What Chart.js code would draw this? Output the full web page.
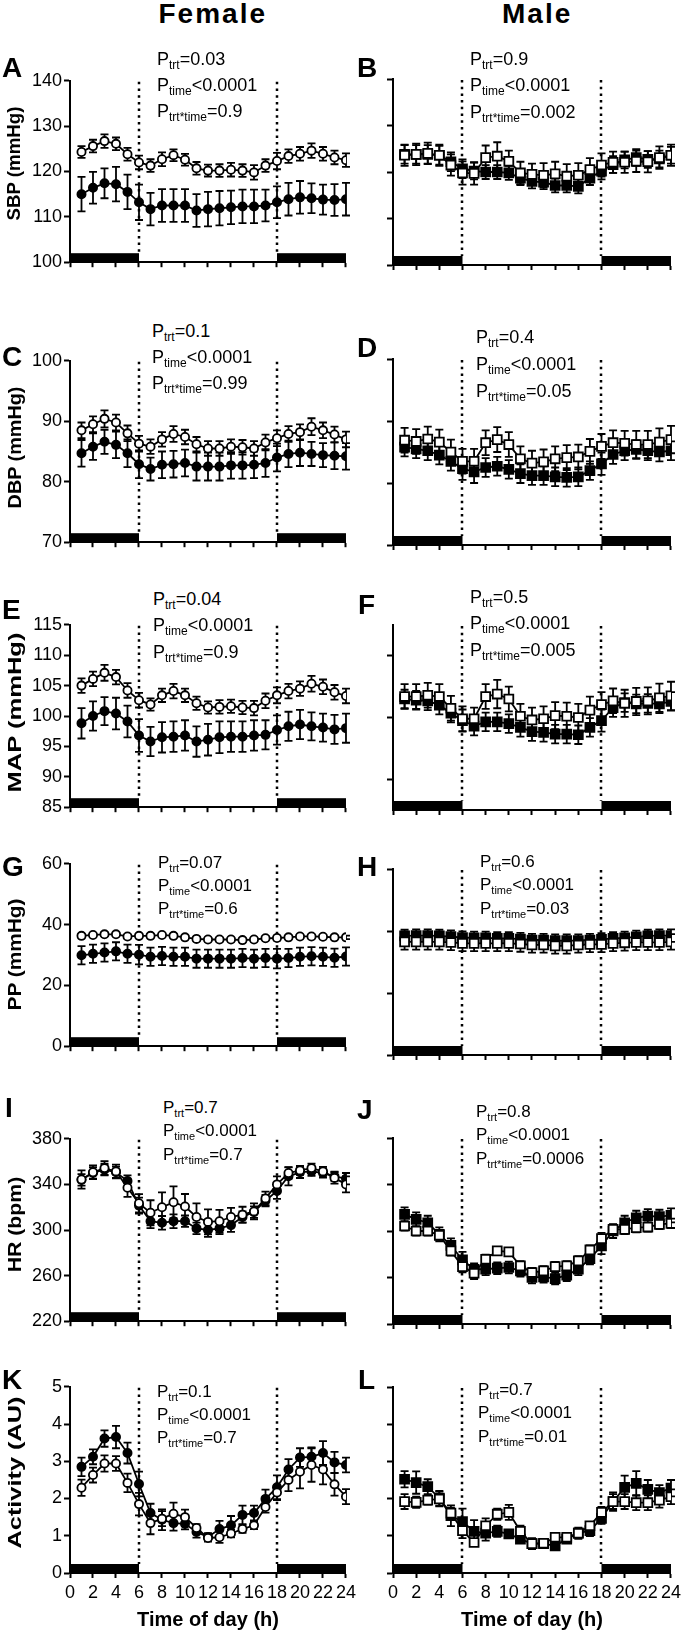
<!DOCTYPE html>
<html>
<head>
<meta charset="utf-8">
<script src="https://cdn.jsdelivr.net/npm/chart.js@4/dist/chart.umd.min.js"></script>
<style>
  html, body { margin: 0; padding: 0; background: #fff; }
  body { width: 685px; height: 1634px; position: relative; overflow: hidden;
         font-family: "Liberation Sans", Arial, sans-serif; color: #000; }
  canvas { position: absolute; }
  .txt { position: absolute; white-space: nowrap; line-height: 1; }
  .head { font-weight: bold; font-size: 28px; letter-spacing: 2px; }
  .letter { font-weight: bold; font-size: 28px; }
  .ytitle { font-weight: bold; font-size: 19px; transform-origin: 50% 50%; }
  .ptxt sub { vertical-align: -4px; }
</style>
</head>
<body>
<script>
"use strict";

// ---- data ----
const hours = [1, 2, 3, 4, 5, 6, 7, 8, 9, 10, 11, 12, 13, 14, 15, 16, 17, 18, 19, 20, 21, 22, 23, 24];
const xTicks = [0, 2, 4, 6, 8, 10, 12, 14, 16, 18, 20, 22, 24];
const nightStart = [0, 18];
const nightEnd = [6, 24];
const lightsChange = [6, 18];

// SBP
const sbpTicks = [100, 110, 120, 130, 140];
const sbpFemaleOpen = [124.3, 125.6, 126.7, 126.1, 123.8, 122.0, 121.3, 122.7, 123.6, 122.6, 120.7, 120.2, 120.2, 120.4, 120.2, 119.8, 121.3, 122.3, 123.4, 123.9, 124.6, 123.9, 123.1, 122.5];
const sbpFemaleOpenErr = [1.3, 1.4, 1.5, 1.4, 1.4, 1.5, 1.4, 1.5, 1.3, 1.3, 1.4, 1.3, 1.4, 1.5, 1.4, 1.6, 1.4, 1.8, 1.5, 1.5, 1.6, 1.5, 1.5, 1.5];
const sbpFemaleFilled = [115.0, 116.4, 117.4, 117.2, 115.5, 113.2, 111.7, 112.5, 112.5, 112.5, 111.4, 111.7, 111.9, 112.1, 112.3, 112.3, 112.5, 113.2, 113.9, 114.3, 114.1, 113.8, 113.7, 113.9];
const sbpFemaleFilledErr = [3.8, 3.5, 3.3, 3.8, 3.8, 3.9, 3.6, 3.6, 3.6, 3.6, 3.6, 3.8, 3.8, 3.7, 3.7, 3.7, 3.5, 3.5, 3.6, 3.6, 3.3, 3.3, 3.5, 3.6];
const sbpMaleOpen = [123.6, 123.8, 124.0, 123.6, 121.5, 119.8, 119.7, 123.1, 123.4, 122.3, 119.8, 119.5, 119.3, 119.6, 119.1, 119.3, 120.5, 121.5, 122.1, 122.1, 122.3, 122.2, 123.1, 123.6];
const sbpMaleOpenErr = [2.3, 2.3, 2.3, 2.3, 2.3, 2.5, 2.4, 2.6, 3.0, 2.3, 2.4, 2.3, 2.6, 2.6, 2.6, 2.6, 2.5, 2.5, 2.3, 2.3, 2.3, 2.3, 2.4, 2.3];
const sbpMaleFilled = [123.8, 123.8, 123.8, 123.6, 122.2, 120.7, 120.2, 120.0, 120.0, 119.8, 118.7, 118.0, 117.8, 117.1, 117.1, 116.9, 118.7, 120.2, 121.6, 122.6, 123.1, 122.7, 122.8, 123.6];
const sbpMaleFilledErr = [2.0, 2.0, 2.0, 2.0, 2.0, 2.0, 1.8, 1.5, 1.5, 1.5, 1.5, 1.5, 1.5, 1.5, 1.5, 1.5, 1.5, 1.8, 1.8, 1.8, 1.8, 1.8, 1.8, 1.8];

// DBP
const dbpTicks = [70, 80, 90, 100];
const dbpFemaleOpen = [88.5, 89.5, 90.4, 89.8, 88.0, 86.3, 85.8, 87.0, 87.9, 87.4, 86.2, 85.5, 85.5, 85.8, 85.7, 85.5, 86.5, 87.2, 87.9, 88.2, 89.1, 88.5, 87.8, 87.0];
const dbpFemaleOpenErr = [1.3, 1.3, 1.4, 1.3, 1.3, 1.3, 1.2, 1.2, 1.3, 1.2, 1.2, 1.2, 1.2, 1.2, 1.2, 1.2, 1.3, 1.3, 1.3, 1.3, 1.4, 1.3, 1.3, 1.3];
const dbpFemaleFilled = [84.7, 85.8, 86.6, 86.1, 84.7, 82.9, 82.1, 82.8, 82.9, 83.1, 82.5, 82.5, 82.5, 82.7, 82.7, 82.8, 83.1, 84.0, 84.6, 84.8, 84.6, 84.4, 84.3, 84.2];
const dbpFemaleFilledErr = [2.2, 2.2, 2.0, 2.2, 2.3, 2.3, 1.9, 2.2, 2.2, 2.2, 2.3, 2.3, 2.3, 2.2, 2.2, 2.2, 2.3, 2.3, 2.2, 2.2, 2.0, 2.0, 2.2, 2.2];
const dbpMaleOpen = [86.9, 86.7, 87.1, 86.6, 85.0, 83.5, 83.5, 86.5, 87.0, 86.2, 83.9, 83.2, 83.4, 83.9, 84.1, 84.2, 85.1, 85.9, 86.5, 86.4, 86.2, 86.2, 86.6, 87.0];
const dbpMaleOpenErr = [2.0, 2.0, 2.0, 2.0, 2.0, 2.0, 2.0, 2.0, 2.0, 2.0, 2.0, 2.0, 2.0, 2.0, 2.0, 2.0, 2.0, 2.0, 2.0, 2.0, 2.2, 2.2, 2.2, 2.2];
const dbpMaleFilled = [85.8, 85.5, 85.2, 84.5, 83.5, 82.3, 81.8, 82.5, 82.7, 82.2, 81.5, 81.2, 81.2, 81.0, 80.9, 81.0, 82.0, 83.1, 84.6, 85.2, 85.4, 85.2, 85.0, 85.2];
const dbpMaleFilledErr = [1.5, 1.5, 1.5, 1.5, 1.5, 1.8, 1.8, 1.5, 1.5, 1.5, 1.5, 1.5, 1.5, 1.5, 1.5, 1.5, 1.5, 1.8, 1.5, 1.5, 1.5, 1.5, 1.5, 1.5];

// MAP
const mapFemaleTicks = [85, 90, 95, 100, 105, 110, 115];
const mapMaleTicks = [90, 100, 110];
const mapFemaleOpen = [105.0, 106.1, 107.1, 106.4, 104.2, 102.6, 101.9, 103.4, 104.1, 103.4, 102.1, 101.4, 101.5, 101.6, 101.4, 101.3, 102.5, 103.4, 104.1, 104.5, 105.3, 104.8, 103.9, 103.3];
const mapFemaleOpenErr = [1.2, 1.2, 1.3, 1.2, 1.2, 1.2, 1.0, 1.1, 1.2, 1.1, 1.1, 1.0, 1.1, 1.1, 1.1, 1.2, 1.2, 1.3, 1.2, 1.2, 1.3, 1.2, 1.2, 1.2];
const mapFemaleFilled = [98.8, 100.0, 100.8, 100.4, 99.1, 96.8, 95.8, 96.5, 96.6, 96.8, 95.8, 96.1, 96.5, 96.6, 96.6, 96.8, 96.9, 97.7, 98.3, 98.6, 98.3, 98.1, 97.8, 98.0];
const mapFemaleFilledErr = [2.5, 2.4, 2.3, 2.6, 2.6, 2.7, 2.4, 2.5, 2.5, 2.5, 2.5, 2.6, 2.6, 2.5, 2.5, 2.5, 2.4, 2.4, 2.4, 2.4, 2.3, 2.3, 2.4, 2.4];
const mapMaleOpen = [103.4, 103.4, 103.6, 103.4, 101.5, 99.8, 99.8, 103.4, 103.8, 103.0, 100.2, 99.6, 99.8, 100.3, 100.2, 100.0, 101.2, 102.1, 102.7, 102.3, 102.6, 102.7, 103.2, 103.5];
const mapMaleOpenErr = [2.0, 2.0, 2.0, 2.0, 2.0, 2.0, 1.8, 2.0, 2.3, 2.0, 2.0, 2.0, 2.0, 2.2, 2.2, 2.2, 2.2, 2.0, 2.0, 2.2, 2.2, 2.2, 2.3, 2.3];
const mapMaleFilled = [103.0, 102.8, 102.7, 102.0, 100.7, 99.5, 98.6, 99.3, 99.3, 99.0, 98.4, 97.7, 97.6, 97.3, 97.3, 97.2, 98.4, 99.5, 101.6, 102.4, 102.2, 102.3, 102.2, 102.6];
const mapMaleFilledErr = [1.5, 1.5, 1.5, 1.5, 1.5, 1.8, 1.5, 1.5, 1.5, 1.5, 1.5, 1.5, 1.5, 1.5, 1.5, 1.5, 1.5, 1.8, 1.5, 1.5, 1.5, 1.5, 1.5, 1.5];

// PP
const ppTicks = [0, 20, 40, 60];
const ppFemaleOpen = [36.3, 36.6, 36.8, 36.8, 36.1, 36.3, 36.3, 36.6, 36.3, 35.8, 35.3, 35.1, 35.1, 35.1, 34.9, 35.1, 35.5, 35.6, 35.8, 36.1, 36.1, 36.0, 35.8, 35.8];
const ppFemaleOpenErr = [0.6, 0.6, 0.6, 0.6, 0.6, 0.6, 0.6, 0.6, 0.6, 0.6, 0.6, 0.6, 0.6, 0.6, 0.6, 0.6, 0.6, 0.8, 0.6, 0.6, 0.6, 0.6, 0.6, 0.6];
const ppFemaleFilled = [29.9, 30.4, 30.8, 31.2, 30.4, 30.1, 29.4, 29.7, 29.4, 29.4, 28.8, 28.8, 28.8, 28.8, 29.0, 28.8, 29.0, 28.8, 29.0, 29.4, 29.6, 29.4, 29.1, 29.5];
const ppFemaleFilledErr = [3.0, 3.0, 3.0, 3.0, 3.0, 3.2, 3.0, 3.0, 3.0, 3.0, 3.0, 3.0, 3.0, 3.0, 3.0, 3.0, 3.0, 3.2, 3.0, 3.0, 3.0, 3.0, 3.0, 3.0];
const ppMaleOpen = [36.5, 36.5, 36.5, 36.5, 36.3, 36.0, 36.0, 36.0, 36.0, 36.0, 35.8, 35.5, 35.5, 35.2, 35.2, 35.5, 35.7, 35.7, 36.0, 36.2, 36.3, 36.3, 36.3, 36.5];
const ppMaleOpenErr = [2.5, 2.5, 2.5, 2.5, 2.5, 2.5, 2.5, 2.5, 2.5, 2.5, 2.5, 2.5, 2.5, 2.5, 2.5, 2.5, 2.5, 2.5, 2.5, 2.5, 2.5, 2.5, 2.5, 2.5];
const ppMaleFilled = [38.4, 38.5, 38.5, 38.4, 38.2, 37.9, 37.8, 37.8, 37.6, 37.6, 37.4, 37.1, 37.1, 36.9, 36.9, 36.9, 37.1, 37.3, 37.6, 37.8, 38.1, 38.4, 38.5, 38.5];
const ppMaleFilledErr = [2.0, 2.0, 2.0, 2.0, 2.0, 2.0, 2.0, 2.0, 2.0, 2.0, 2.0, 2.0, 2.0, 2.0, 2.0, 2.0, 2.0, 2.0, 2.0, 2.0, 2.0, 2.0, 2.0, 2.0];

// HR
const hrTicks = [220, 260, 300, 340, 380];
const hrFemaleOpen = [344.3, 350.6, 354.3, 351.4, 337.1, 323.4, 315.1, 320.0, 324.3, 320.6, 311.4, 307.1, 307.7, 311.4, 313.4, 316.3, 327.7, 340.0, 350.0, 352.3, 354.3, 351.4, 345.7, 340.0];
const hrFemaleOpenErr = [8, 6, 6, 6, 8, 8, 11, 13, 14, 11, 12, 11, 10, 8, 7, 7, 6, 7, 5, 4, 4, 4, 5, 7];
const hrFemaleFilled = [344.0, 350.0, 352.9, 350.6, 342.9, 321.4, 307.7, 306.3, 307.7, 307.7, 301.4, 300.0, 301.4, 304.3, 311.4, 315.7, 325.7, 334.3, 347.1, 350.6, 351.4, 350.0, 347.1, 345.0];
const hrFemaleFilledErr = [5, 5, 5, 5, 5, 7, 6, 6, 6, 5, 5, 6, 5, 6, 5, 5, 5, 7, 8, 5, 4, 4, 4, 5];
const hrMaleOpen = [304.3, 300.0, 300.0, 296.3, 282.9, 269.4, 263.7, 275.7, 282.9, 282.0, 270.0, 264.3, 265.7, 269.4, 270.0, 274.3, 283.7, 293.4, 301.4, 301.4, 302.9, 303.4, 305.7, 306.6];
const hrMaleOpenErr = [4, 4, 4, 4, 4, 5, 5, 4, 3, 3, 4, 4, 4, 4, 4, 4, 4, 5, 4, 4, 4, 4, 4, 4];
const hrMaleFilled = [314.3, 310.0, 307.1, 297.1, 287.7, 275.1, 267.1, 267.1, 268.0, 268.6, 265.7, 260.0, 260.6, 259.1, 262.0, 267.1, 276.3, 287.1, 300.0, 307.1, 311.4, 312.9, 312.3, 313.4];
const hrMaleFilledErr = [6, 6, 6, 6, 6, 7, 5, 5, 5, 5, 5, 5, 5, 5, 5, 5, 5, 7, 6, 6, 6, 6, 6, 6];

// Activity
const actTicks = [0, 1, 2, 3, 4, 5];
const actFemaleOpen = [2.29, 2.63, 2.94, 2.94, 2.42, 1.85, 1.34, 1.46, 1.59, 1.50, 1.21, 0.94, 0.96, 1.06, 1.18, 1.28, 1.77, 2.16, 2.50, 2.72, 2.90, 2.78, 2.38, 2.05];
const actFemaleOpenErr = [0.22, 0.20, 0.22, 0.20, 0.25, 0.30, 0.30, 0.20, 0.30, 0.20, 0.10, 0.10, 0.15, 0.10, 0.10, 0.10, 0.15, 0.20, 0.30, 0.45, 0.45, 0.40, 0.30, 0.20];
const actFemaleFilled = [2.85, 3.12, 3.61, 3.65, 3.22, 2.39, 1.61, 1.43, 1.34, 1.32, 1.10, 0.97, 1.18, 1.28, 1.56, 1.61, 1.99, 2.30, 2.78, 3.10, 3.12, 3.22, 2.97, 2.90];
const actFemaleFilledErr = [0.25, 0.20, 0.22, 0.30, 0.28, 0.33, 0.25, 0.28, 0.20, 0.15, 0.15, 0.10, 0.22, 0.25, 0.25, 0.20, 0.25, 0.32, 0.28, 0.25, 0.25, 0.32, 0.28, 0.20];
const actMaleOpen = [1.92, 1.90, 1.96, 1.99, 1.61, 1.14, 0.82, 1.27, 1.58, 1.63, 1.12, 0.79, 0.80, 0.96, 0.96, 1.07, 1.27, 1.63, 1.92, 1.92, 1.89, 1.89, 1.96, 2.05];
const actMaleOpenErr = [0.20, 0.15, 0.12, 0.20, 0.15, 0.20, 0.10, 0.20, 0.15, 0.20, 0.15, 0.15, 0.10, 0.10, 0.10, 0.15, 0.10, 0.15, 0.20, 0.20, 0.20, 0.20, 0.20, 0.20];
const actMaleFilled = [2.52, 2.43, 2.32, 2.01, 1.54, 1.38, 1.12, 1.07, 1.12, 1.05, 0.91, 0.79, 0.79, 0.73, 0.91, 1.07, 1.14, 1.47, 1.92, 2.30, 2.41, 2.25, 2.16, 2.28];
const actMaleFilledErr = [0.22, 0.30, 0.20, 0.20, 0.28, 0.35, 0.30, 0.20, 0.15, 0.10, 0.10, 0.10, 0.10, 0.10, 0.10, 0.10, 0.15, 0.15, 0.25, 0.32, 0.33, 0.25, 0.20, 0.22];

// P values printed in each panel
const pA = ["=0.03", "<0.0001", "=0.9"];
const pB = ["=0.9", "<0.0001", "=0.002"];
const pC = ["=0.1", "<0.0001", "=0.99"];
const pD = ["=0.4", "<0.0001", "=0.05"];
const pE = ["=0.04", "<0.0001", "=0.9"];
const pF = ["=0.5", "<0.0001", "=0.005"];
const pG = ["=0.07", "<0.0001", "=0.6"];
const pH = ["=0.6", "<0.0001", "=0.03"];
const pI = ["=0.7", "<0.0001", "=0.7"];
const pJ = ["=0.8", "<0.0001", "=0.0006"];
const pK = ["=0.1", "<0.0001", "=0.7"];
const pL = ["=0.7", "<0.0001", "=0.01"];
const pSubs = ["trt", "time", "trt*time"];

// ---- drawing ----
Chart.defaults.font.family = "'Liberation Sans', Arial, sans-serif";
Chart.defaults.color = "#000";

const BAR_H = 9;

// night bars, lights-on/off dotted lines and SEM bars
const panelDecor = {
    id: "panelDecor",
    beforeDatasetsDraw(chart) {
        const { ctx, chartArea: { top, bottom }, scales: { x, y } } = chart;
        ctx.save();
        ctx.fillStyle = "#000";
        for (let i = 0; i < nightStart.length; i++) {
            const x0 = x.getPixelForValue(nightStart[i]);
            const x1 = x.getPixelForValue(nightEnd[i]);
            ctx.fillRect(x0, bottom - BAR_H, x1 - x0, BAR_H);
        }
        ctx.strokeStyle = "#000";
        ctx.lineWidth = 2.5;
        ctx.setLineDash([2.5, 4.2]);
        lightsChange.forEach(h => {
            const px = Math.round(x.getPixelForValue(h));
            ctx.beginPath();
            ctx.moveTo(px, top + 1);
            ctx.lineTo(px, bottom - BAR_H);
            ctx.stroke();
        });
        ctx.setLineDash([]);
        ctx.lineWidth = 1.8;
        chart.data.datasets.slice().reverse().forEach(ds => {
            ds.data.forEach((p, i) => {
                const e = ds.errors[i];
                const px = x.getPixelForValue(p.x);
                const y0 = y.getPixelForValue(p.y - e);
                const y1 = y.getPixelForValue(p.y + e);
                ctx.beginPath();
                ctx.moveTo(px, y0); ctx.lineTo(px, y1);
                ctx.moveTo(px - 4, y0); ctx.lineTo(px + 4, y0);
                ctx.moveTo(px - 4, y1); ctx.lineTo(px + 4, y1);
                ctx.stroke();
            });
        });
        ctx.restore();
    }
};

function series(vals, errs, filled, shape) {
    return {
        data: hours.map((h, i) => ({ x: h, y: vals[i] })),
        errors: errs,
        borderColor: "#000",
        borderWidth: 1.8,
        backgroundColor: filled ? "#000" : "#fff",
        pointStyle: shape,
        pointRadius: shape === "rect" ? 6.3 : 4.1,
        pointBorderWidth: 1.8,
        pointBorderColor: "#000",
        pointBackgroundColor: filled ? "#000" : "#fff",
        tension: 0,
        fill: false
    };
}

function addPanel(cfg) {
    const isLeft = cfg.col === 0;
    const canvasLeft = isLeft ? 0 : 340;
    const canvasW = isLeft ? 360 : 345;
    const yAxisW = isLeft ? 70 : 53;
    const padRight = isLeft ? 10 : 12;
    const padTop = 12;
    const xH = cfg.bottomRow ? 61 : 10;
    const canvasH = (cfg.plotBottom - cfg.plotTop) + padTop + xH;

    const cv = document.createElement("canvas");
    cv.width = canvasW;
    cv.height = canvasH;
    cv.style.left = canvasLeft + "px";
    cv.style.top = (cfg.plotTop - padTop) + "px";
    cv.style.width = canvasW + "px";
    cv.style.height = canvasH + "px";
    document.body.appendChild(cv);

    const shape = isLeft ? "circle" : "rect";
    new Chart(cv.getContext("2d"), {
        type: "line",
        data: {
            datasets: [
                series(cfg.open, cfg.openErr, false, shape),
                series(cfg.filled, cfg.filledErr, true, shape)
            ]
        },
        options: {
            responsive: false,
            animation: false,
            devicePixelRatio: 1,
            layout: { padding: { left: 0, right: padRight, top: padTop, bottom: 0 } },
            plugins: { legend: { display: false }, tooltip: { enabled: false } },
            scales: {
                x: {
                    type: "linear", min: 0, max: 24,
                    afterBuildTicks: s => { s.ticks = xTicks.map(v => ({ value: v })); },
                    ticks: { display: cfg.bottomRow, autoSkip: false, maxRotation: 0,
                             font: { size: 18 }, color: "#000", padding: 4 },
                    grid: { drawOnChartArea: false, drawTicks: true, tickLength: 5,
                            tickWidth: 2, tickColor: "#000" },
                    border: { display: true, color: "#000", width: 2 },
                    title: { display: cfg.bottomRow, text: "Time of day (h)",
                             font: { size: 20, weight: "bold" }, color: "#000",
                             padding: { top: 0, bottom: 2 } },
                    afterFit: s => { s.height = xH; }
                },
                y: {
                    type: "linear", min: cfg.ymin, max: cfg.ymax,
                    afterBuildTicks: s => { s.ticks = cfg.yticks.map(v => ({ value: v })); },
                    ticks: { display: isLeft, font: { size: 18 }, color: "#000", padding: 2 },
                    grid: { drawOnChartArea: false, drawTicks: true, tickLength: 6,
                            tickWidth: 2, tickColor: "#000" },
                    border: { display: true, color: "#000", width: 2 },
                    afterFit: s => { s.width = yAxisW; }
                }
            }
        },
        plugins: [panelDecor]
    });
}

// html text helpers (positioned by baseline)
function addText(cls, html, left, baseline, size) {
    const d = document.createElement("div");
    d.className = "txt " + cls;
    d.innerHTML = html;
    d.style.left = left + "px";
    d.style.top = (baseline - 0.85 * size) + "px";
    document.body.appendChild(d);
    return d;
}

function addCentered(cls, text, cx, baseline, size) {
    const d = addText(cls, text, 0, baseline, size);
    d.style.left = (cx - d.offsetWidth / 2) + "px";
}

function addPValues(vals, left, baseline, size, gap) {
    vals.forEach((v, i) => {
        const html = "P<sub style='font-size:" + Math.round(size * 0.66) + "px'>" + pSubs[i] + "</sub>" + v;
        const d = addText("ptxt", html, left, baseline + i * gap, size);
        d.style.fontSize = size + "px";
    });
}

function addYTitle(text, cx, cy, len) {
    const d = document.createElement("div");
    d.className = "txt ytitle";
    d.textContent = text;
    document.body.appendChild(d);
    const w = d.offsetWidth, h = d.offsetHeight;
    d.style.left = (cx - w / 2) + "px";
    d.style.top = (cy - h / 2) + "px";
    d.style.transform = "rotate(-90deg) scaleX(" + (len / w).toFixed(3) + ")";
}

// ---- panels ----
addPanel({ col: 0, plotTop: 80, plotBottom: 265, ymin: 100, ymax: 140, yticks: sbpTicks,
           open: sbpFemaleOpen, openErr: sbpFemaleOpenErr, filled: sbpFemaleFilled, filledErr: sbpFemaleFilledErr });
addPanel({ col: 1, plotTop: 79, plotBottom: 265, ymin: 100, ymax: 140, yticks: sbpTicks,
           open: sbpMaleOpen, openErr: sbpMaleOpenErr, filled: sbpMaleFilled, filledErr: sbpMaleFilledErr });
addPanel({ col: 0, plotTop: 360, plotBottom: 545, ymin: 70, ymax: 100, yticks: dbpTicks,
           open: dbpFemaleOpen, openErr: dbpFemaleOpenErr, filled: dbpFemaleFilled, filledErr: dbpFemaleFilledErr });
addPanel({ col: 1, plotTop: 359, plotBottom: 545, ymin: 70, ymax: 100, yticks: dbpTicks,
           open: dbpMaleOpen, openErr: dbpMaleOpenErr, filled: dbpMaleFilled, filledErr: dbpMaleFilledErr });
addPanel({ col: 0, plotTop: 624, plotBottom: 810, ymin: 85, ymax: 115, yticks: mapFemaleTicks,
           open: mapFemaleOpen, openErr: mapFemaleOpenErr, filled: mapFemaleFilled, filledErr: mapFemaleFilledErr });
addPanel({ col: 1, plotTop: 625, plotBottom: 810, ymin: 85, ymax: 115, yticks: mapMaleTicks,
           open: mapMaleOpen, openErr: mapMaleOpenErr, filled: mapMaleFilled, filledErr: mapMaleFilledErr });
addPanel({ col: 0, plotTop: 863, plotBottom: 1049, ymin: 0, ymax: 60, yticks: ppTicks,
           open: ppFemaleOpen, openErr: ppFemaleOpenErr, filled: ppFemaleFilled, filledErr: ppFemaleFilledErr });
addPanel({ col: 1, plotTop: 869, plotBottom: 1055, ymin: 0, ymax: 60, yticks: ppTicks,
           open: ppMaleOpen, openErr: ppMaleOpenErr, filled: ppMaleFilled, filledErr: ppMaleFilledErr });
addPanel({ col: 0, plotTop: 1138, plotBottom: 1324, ymin: 220, ymax: 380, yticks: hrTicks,
           open: hrFemaleOpen, openErr: hrFemaleOpenErr, filled: hrFemaleFilled, filledErr: hrFemaleFilledErr });
addPanel({ col: 1, plotTop: 1138, plotBottom: 1324, ymin: 220, ymax: 380, yticks: hrTicks,
           open: hrMaleOpen, openErr: hrMaleOpenErr, filled: hrMaleFilled, filledErr: hrMaleFilledErr });
addPanel({ col: 0, plotTop: 1386, plotBottom: 1573, ymin: 0, ymax: 5, yticks: actTicks, bottomRow: true,
           open: actFemaleOpen, openErr: actFemaleOpenErr, filled: actFemaleFilled, filledErr: actFemaleFilledErr });
addPanel({ col: 1, plotTop: 1387, plotBottom: 1573, ymin: 0, ymax: 5, yticks: actTicks, bottomRow: true,
           open: actMaleOpen, openErr: actMaleOpenErr, filled: actMaleFilled, filledErr: actMaleFilledErr });

// ---- text ----
addCentered("head", "Female", 213, 24, 28);
addCentered("head", "Male", 537, 24, 28);

addText("letter", "A", 2, 78, 28);
addText("letter", "B", 357, 78, 28);
addText("letter", "C", 2, 367, 28);
addText("letter", "D", 357, 358, 28);
addText("letter", "E", 2, 620, 28);
addText("letter", "F", 358, 615, 28);
addText("letter", "G", 2, 877, 28);
addText("letter", "H", 357, 877, 28);
addText("letter", "I", 5, 1118, 28);
addText("letter", "J", 357, 1120, 28);
addText("letter", "K", 2, 1390, 28);
addText("letter", "L", 358, 1390, 28);

addPValues(pA, 157, 65, 18, 26);
addPValues(pB, 470, 65, 18, 26.5);
addPValues(pC, 152, 337, 18, 26);
addPValues(pD, 476, 343, 18, 27);
addPValues(pE, 153, 605, 18, 26.5);
addPValues(pF, 470, 603, 18, 26.5);
addPValues(pG, 158, 868, 17, 23);
addPValues(pH, 480, 867, 17, 23.5);
addPValues(pI, 163, 1113, 17, 23.5);
addPValues(pJ, 476, 1117, 17, 23.5);
addPValues(pK, 157, 1397, 17, 23);
addPValues(pL, 478, 1395, 17, 23.5);

addYTitle("SBP (mmHg)", 14, 163, 114);
addYTitle("DBP (mmHg)", 14, 447, 122);
addYTitle("MAP (mmHg)", 14, 712, 160);
addYTitle("PP (mmHg)", 14, 954, 112);
addYTitle("HR (bpm)", 14, 1224, 95);
addYTitle("Activity (AU)", 14, 1472, 152);
</script>
</body>
</html>
